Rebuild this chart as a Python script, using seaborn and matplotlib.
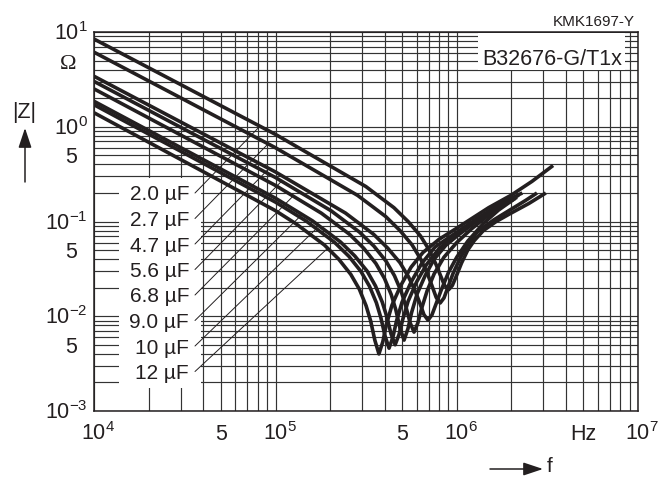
import numpy as np
import pandas as pd
import matplotlib
matplotlib.use("Agg")
import matplotlib.pyplot as plt
import seaborn as sns
from matplotlib.patches import Rectangle
from matplotlib.ticker import LogLocator, NullFormatter
from matplotlib import transforms

# ---------------- data ----------------
labels = ["2.0 µF", "2.7 µF", "4.7 µF", "5.6 µF", "6.8 µF", "9.0 µF", "10 µF", "12 µF"]

f_2u0 = [1e4, 1e5, 3.15e5, 4.5e5, 5.4e5, 6.3e5, 7.02e5, 7.65e5, 8.1e5, 8.55e5, 9.0e5, 9.45e5, 9.9e5,
         1.062e6, 1.15e6, 1.25e6, 1.4e6, 1.65e6, 2e6, 2.5e6, 3.1e6]
z_2u0 = [8.4, 0.83, 0.234, 0.140, 0.0996, 0.0706, 0.0506, 0.0359, 0.0274, 0.0213, 0.019, 0.0211, 0.026,
         0.0364, 0.050, 0.063, 0.080, 0.100, 0.123, 0.155, 0.20]

f_2u7 = [1e4, 1e5, 2.835e5, 4.05e5, 4.86e5, 5.67e5, 6.32e5, 6.885e5, 7.29e5, 7.7e5, 8.1e5, 8.5e5, 8.91e5,
         9.56e5, 1.05e6, 1.15e6, 1.3e6, 1.6e6, 2e6, 2.4e6, 2.77e6]
z_2u7 = [6.1, 0.60, 0.1888, 0.113, 0.0803, 0.0566, 0.0402, 0.0282, 0.0211, 0.0158, 0.0138, 0.0156, 0.0199,
         0.0286, 0.042, 0.057, 0.078, 0.104, 0.135, 0.167, 0.20]

f_4u7 = [1e4, 1e5, 2.43e5, 3.47e5, 4.16e5, 4.86e5, 5.41e5, 5.9e5, 6.25e5, 6.59e5, 6.94e5, 7.29e5, 7.63e5,
         8.19e5, 9e5, 1e6, 1.15e6, 1.4e6, 1.7e6, 2.05e6]
z_4u7 = [3.4, 0.333, 0.1229, 0.0735, 0.0523, 0.0368, 0.0262, 0.0184, 0.0138, 0.0104, 0.0091, 0.0103, 0.013,
         0.0187, 0.029, 0.042, 0.062, 0.095, 0.132, 0.17]

f_5u6 = [1e4, 1e5, 2.03e5, 2.9e5, 3.49e5, 4.07e5, 4.53e5, 4.94e5, 5.23e5, 5.52e5, 5.81e5, 6.1e5, 6.39e5,
         6.86e5, 7.5e5, 8.5e5, 1e6, 1.2e6, 1.5e6, 1.8e6, 2.1e6]
z_5u6 = [3.0, 0.291, 0.1294, 0.0775, 0.055, 0.0382, 0.0268, 0.0182, 0.0128, 0.0086, 0.0068, 0.0085, 0.012,
         0.0185, 0.028, 0.042, 0.060, 0.083, 0.117, 0.148, 0.175]

f_6u8 = [1e4, 1e5, 1.79e5, 2.56e5, 3.07e5, 3.58e5, 3.99e5, 4.35e5, 4.61e5, 4.86e5, 5.12e5, 5.38e5, 5.63e5,
         6.04e5, 6.7e5, 7.5e5, 8.7e5, 1e6, 1.25e6, 1.6e6, 2.15e6]
z_6u8 = [2.5, 0.240, 0.1224, 0.0733, 0.0521, 0.036, 0.0251, 0.0169, 0.0117, 0.0075, 0.0056, 0.0074, 0.0109,
         0.0172, 0.027, 0.040, 0.056, 0.070, 0.097, 0.135, 0.18]

f_9u0 = [1e4, 1e5, 1.6e5, 2.285e5, 2.74e5, 3.2e5, 3.56e5, 3.88e5, 4.11e5, 4.34e5, 4.57e5, 4.8e5, 5.03e5,
         5.39e5, 6e5, 6.8e5, 8e5, 1e6, 1.3e6, 1.7e6, 2.2e6]
z_9u0 = [1.85, 0.176, 0.1015, 0.0607, 0.0432, 0.030, 0.0209, 0.0141, 0.0099, 0.0065, 0.005, 0.0064, 0.0092,
         0.0144, 0.023, 0.035, 0.052, 0.074, 0.105, 0.145, 0.19]

f_10u = [1e4, 1e5, 1.48e5, 2.115e5, 2.54e5, 2.96e5, 3.3e5, 3.6e5, 3.81e5, 4.02e5, 4.23e5, 4.44e5, 4.65e5,
         4.99e5, 5.6e5, 6.4e5, 7.6e5, 1e6, 1.3e6, 1.8e6, 2.3e6]
z_10u = [1.7, 0.160, 0.1008, 0.0603, 0.0429, 0.0297, 0.0207, 0.0139, 0.0097, 0.0062, 0.0046, 0.006, 0.0089,
         0.0141, 0.023, 0.036, 0.054, 0.077, 0.108, 0.16, 0.20]

f_12u = [1e4, 1e5, 1.3e5, 1.86e5, 2.23e5, 2.6e5, 2.9e5, 3.16e5, 3.35e5, 3.53e5, 3.72e5, 3.91e5, 4.09e5,
         4.39e5, 4.9e5, 5.6e5, 6.5e5, 8e5, 1e6, 1.5e6, 2e6, 2.6e6, 3.4e6]
z_12u = [1.4, 0.130, 0.0943, 0.0565, 0.0401, 0.0277, 0.0193, 0.0129, 0.0089, 0.0056, 0.004, 0.0054, 0.0082,
         0.0131, 0.021, 0.033, 0.047, 0.065, 0.085, 0.14, 0.19, 0.265, 0.39]

freqs = [f_2u0, f_2u7, f_4u7, f_5u6, f_6u8, f_9u0, f_10u, f_12u]
imps = [z_2u0, z_2u7, z_4u7, z_5u6, z_6u8, z_9u0, z_10u, z_12u]

leader_f = [8.2e4, 9.1e4, 9.2e4, 1.08e5, 1.25e5, 1.40e5, 1.68e5, 1.94e5]

xtick_vals = [1e4, 5e4, 1e5, 5e5, 1e6, 5e6, 1e7]
xtick_txt = ["$10^{4}$", "5", "$10^{5}$", "5", "$10^{6}$", "Hz", "$10^{7}$"]
ytick_vals = [1e1, 5, 1e0, 0.5, 1e-1, 0.05, 1e-2, 0.005, 1e-3]
ytick_txt = ["$10^{1}$", "Ω", "$10^{0}$", "5", "$10^{-1}$", "5", "$10^{-2}$", "5", "$10^{-3}$"]

# ---------------- style ----------------
sns.set_theme(style="white")
plt.rcParams["font.family"] = ["Liberation Sans", "DejaVu Sans"]
plt.rcParams["mathtext.fontset"] = "custom"
plt.rcParams["mathtext.rm"] = "Liberation Sans"
plt.rcParams["mathtext.it"] = "Liberation Sans:italic"
plt.rcParams["mathtext.bf"] = "Liberation Sans:bold"

ink = "#231f20"
W, H = 661, 479
L, R, T, B = 94.3, 638.0, 32.0, 411.0

fig = plt.figure(figsize=(W / 100, H / 100), dpi=100)
fig.patch.set_facecolor("white")
ax = fig.add_axes([L / W, 1 - B / H, (R - L) / W, (B - T) / H])


def axf(px, py):
    return (px - L) / (R - L), (B - py) / (B - T)


ax.set_xscale("log")
ax.set_yscale("log")
ax.set_xlim(1e4, 1e7)
ax.set_ylim(1e-3, 1e1)

for f, z, lab in zip(freqs, imps, labels):
    df = pd.DataFrame({"f": f, "Z": z})
    sns.lineplot(data=df, x="f", y="Z", ax=ax, color=ink, lw=2.6, sort=False,
                 estimator=None, zorder=3, solid_capstyle="butt")

ax.set_xlim(1e4, 1e7)
ax.set_ylim(1e-3, 1e1)
ax.set_xlabel("")
ax.set_ylabel("")

ax.xaxis.set_major_locator(LogLocator(base=10))
ax.xaxis.set_minor_locator(LogLocator(base=10, subs=np.arange(2, 10)))
ax.yaxis.set_major_locator(LogLocator(base=10))
ax.yaxis.set_minor_locator(LogLocator(base=10, subs=np.arange(2, 10)))
ax.xaxis.set_minor_formatter(NullFormatter())
ax.yaxis.set_minor_formatter(NullFormatter())
ax.set_axisbelow(True)
ax.grid(True, which="both", color="#333333", lw=0.85)
ax.tick_params(which="both", length=0, labelbottom=False, labelleft=False)
for s in ax.spines.values():
    s.set_color(ink)
    s.set_linewidth(1.1)
    s.set_zorder(5)

# white boxes that interrupt the grid
x0, y0 = axf(119, 388)
x1, y1 = axf(201, 177.5)
ax.add_patch(Rectangle((x0, y0), x1 - x0, y1 - y0, transform=ax.transAxes,
                       facecolor="white", edgecolor="none", zorder=1))
x0, y0 = axf(478, 70)
x1, y1 = axf(625, 33)
ax.add_patch(Rectangle((x0, y0), x1 - x0, y1 - y0, transform=ax.transAxes,
                       facecolor="white", edgecolor="none", zorder=1))

# capacitance labels with leader lines
label_y = [193, 218.5, 244, 269.5, 295, 320.5, 346, 371.5]
for lab, ly, ft, f, z in zip(labels, label_y, leader_f, freqs, imps):
    ax.text(*axf(189, ly + 7.5), lab, transform=ax.transAxes, ha="right", va="baseline",
            fontsize=15, color=ink, zorder=6)
    zt = 10 ** np.interp(np.log10(ft), np.log10(f), np.log10(z))
    ax.annotate("", xy=(ft, zt), xycoords="data", xytext=axf(195, ly), textcoords="axes fraction",
                arrowprops=dict(arrowstyle="-", lw=0.7, color=ink, shrinkA=0, shrinkB=0), zorder=4)

# tick labels
base_y = axf(0, 440)[1]
for v, t in zip(xtick_vals, xtick_txt):
    dx = 4 if t.startswith("$") else 0
    tr = transforms.offset_copy(ax.get_xaxis_transform(), fig=fig, x=dx, y=0, units="dots")
    ax.text(v, base_y, t, transform=tr, ha="center", va="baseline", fontsize=15.5, color=ink)

for v, t in zip(ytick_vals, ytick_txt):
    tr = transforms.offset_copy(ax.get_yaxis_transform(), fig=fig, x=0, y=-8, units="dots")
    if t.startswith("$"):
        ax.text(axf(88, 0)[0], v, t, transform=tr, ha="right", va="baseline", fontsize=15.5, color=ink)
    elif t == "Ω":
        ax.text(axf(68, 0)[0], v, t, transform=tr, ha="center", va="baseline", fontsize=16,
                color=ink, family=["Liberation Serif", "DejaVu Serif"])
    else:
        ax.text(axf(71, 0)[0], v, t, transform=tr, ha="center", va="baseline", fontsize=15.5, color=ink)

# axis names with arrows
ax.text(*axf(24, 118), "|Z|", transform=ax.transAxes, ha="center", va="baseline", fontsize=15.5, color=ink)
ax.annotate("", xy=axf(25, 128), xytext=axf(25, 182), xycoords="axes fraction", textcoords="axes fraction",
            arrowprops=dict(arrowstyle="-|>,head_length=0.6,head_width=0.2", color=ink, lw=1.1,
                            shrinkA=0, shrinkB=0, mutation_scale=20), annotation_clip=False)
ax.annotate("", xy=axf(543, 469), xytext=axf(490, 469), xycoords="axes fraction", textcoords="axes fraction",
            arrowprops=dict(arrowstyle="-|>,head_length=0.6,head_width=0.2", color=ink, lw=1.1,
                            shrinkA=0, shrinkB=0, mutation_scale=20), annotation_clip=False)
ax.text(*axf(547, 472), "f", transform=ax.transAxes, ha="left", va="baseline", fontsize=15, color=ink)

# titles
ax.text(*axf(482, 65), "B32676-G/T1x", transform=ax.transAxes, ha="left", va="baseline",
        fontsize=15.5, color=ink, zorder=6)
ax.text(*axf(635, 26.5), "KMK1697-Y", transform=ax.transAxes, ha="right", va="baseline",
        fontsize=11, color=ink)

fig.savefig("out.png", dpi=100, facecolor="white")
